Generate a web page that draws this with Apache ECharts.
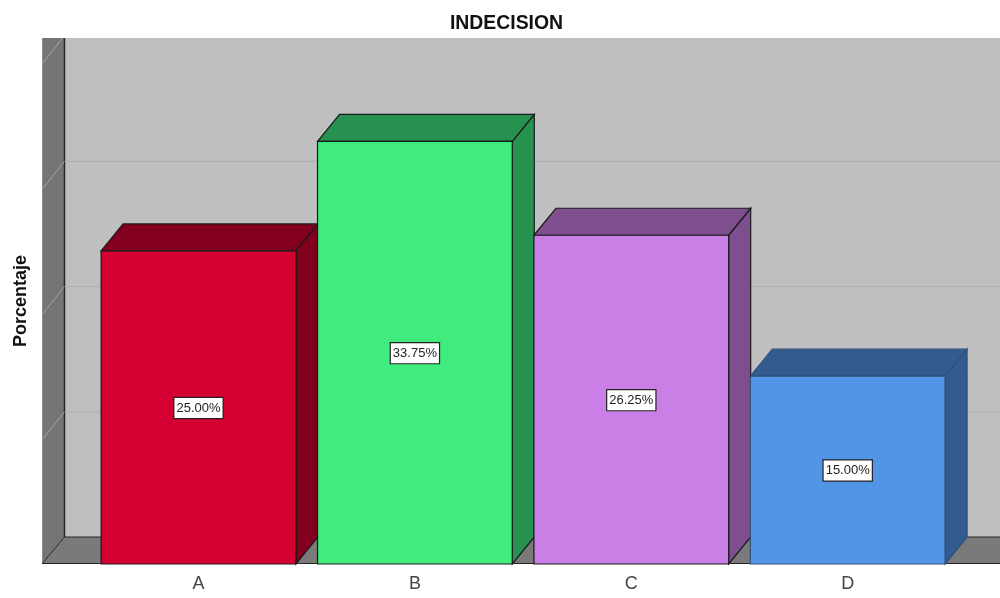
<!DOCTYPE html>
<html>
<head>
<meta charset="utf-8">
<style>html,body{margin:0;padding:0;background:#fff}#main{width:1000px;height:598px}</style>
<script src="https://cdn.jsdelivr.net/npm/echarts@6/dist/echarts.min.js"></script>
</head>
<body>
<div id="main"></div>
<script>
// Responses per option, in percent
const categories = ['A', 'B', 'C', 'D'];
const percentages = [25, 33.75, 26.25, 15];
const gridValues = [10, 20, 30, 40];
const frontColors = ['#D50032', '#40EC7D', '#C97FE6', '#5294E6'];
const shadeColors = ['#82001E', '#27914F', '#7D4F8E', '#335B90'];
const edgeColors = ['#1a1a1a', '#1a1a1a', '#1a1a1a', '#2f5078'];

// Oblique projection of the box: the depth runs up and to the right
const DEPTH_X = 22;
const DEPTH_Y = 27;
const WALL_LEFT = 42;
const BAR_RATIO = 0.9;

function poly(points, fill, stroke, lineWidth) {
  return { type: 'polygon', shape: { points }, style: { fill, stroke, lineWidth } };
}

function renderRoom(params) {
  const rect = params.coordSys;
  const top = rect.y;
  const bottom = rect.y + rect.height;
  const right = params.coordSys.x + 1000;
  const backX = WALL_LEFT + DEPTH_X + 0.5;
  const backY = bottom - DEPTH_Y;
  return {
    type: 'group',
    silent: true,
    children: [
      poly([[backX, top], [right, top], [right, backY], [backX, backY]], '#BFBFBF', null, 0),
      poly([[WALL_LEFT, top], [backX, top], [backX, backY], [WALL_LEFT, bottom]], '#757575', null, 0),
      poly([[WALL_LEFT, bottom], [backX, backY], [right, backY], [right, bottom]], '#7A7A7A', null, 0),
      { type: 'line', shape: { x1: WALL_LEFT + 0.5, y1: top, x2: WALL_LEFT + 0.5, y2: bottom }, style: { stroke: '#8a8a8a', lineWidth: 1 } },
      { type: 'line', shape: { x1: backX, y1: top, x2: backX, y2: backY }, style: { stroke: '#262626', lineWidth: 1.5 } },
      { type: 'line', shape: { x1: backX, y1: backY, x2: right, y2: backY }, style: { stroke: '#262626', lineWidth: 1.2 } },
      { type: 'line', shape: { x1: WALL_LEFT, y1: bottom, x2: backX, y2: backY }, style: { stroke: '#262626', lineWidth: 1 } },
      { type: 'line', shape: { x1: WALL_LEFT, y1: bottom - 0.5, x2: right, y2: bottom - 0.5 }, style: { stroke: '#262626', lineWidth: 1 } }
    ]
  };
}

function renderGridLine(params, api) {
  const rect = params.coordSys;
  const y = api.coord([0, api.value(1)])[1];
  const backX = WALL_LEFT + DEPTH_X + 0.5;
  const backY = y - DEPTH_Y;
  const children = [];
  // The diagonal on the side wall stops where it meets the ceiling
  let x2 = backX;
  let y2 = backY;
  if (backY < rect.y) {
    y2 = rect.y;
    x2 = WALL_LEFT + (y - rect.y) * DEPTH_X / DEPTH_Y;
  } else {
    children.push({
      type: 'line',
      shape: { x1: backX + 1, y1: backY, x2: rect.x + 1000, y2: backY },
      style: { stroke: '#B0B0B0', lineWidth: 1.2 }
    });
  }
  children.push({
    type: 'line',
    shape: { x1: WALL_LEFT + 1, y1: y, x2, y2 },
    style: { stroke: '#A3A3A3', lineWidth: 1 }
  });
  return { type: 'group', silent: true, children };
}

function renderBox(params, api) {
  const i = api.value(0);
  const value = api.value(1);
  const [cx, yTop] = api.coord([i, value]);
  const yBase = api.coord([i, 0])[1];
  const half = api.size([1, 0])[0] * BAR_RATIO / 2;
  const l = cx - half;
  const r = cx + half;
  const edge = edgeColors[i];
  return {
    type: 'group',
    children: [
      poly([[r, yTop], [r + DEPTH_X, yTop - DEPTH_Y], [r + DEPTH_X, yBase - DEPTH_Y], [r, yBase]], shadeColors[i], edge, 1.2),
      poly([[l, yTop], [l + DEPTH_X, yTop - DEPTH_Y], [r + DEPTH_X, yTop - DEPTH_Y], [r, yTop]], shadeColors[i], edge, 1.2),
      poly([[l, yTop], [r, yTop], [r, yBase], [l, yBase]], frontColors[i], edge, 1.2),
      {
        type: 'text',
        style: {
          text: value.toFixed(2) + '%',
          x: cx,
          y: (yTop + yBase) / 2 + 0.5,
          align: 'center',
          verticalAlign: 'middle',
          font: '13px "Liberation Sans", Arial, sans-serif',
          fill: '#222',
          backgroundColor: '#fff',
          borderColor: '#222',
          borderWidth: 1.2,
          padding: [5, 2, 2, 2]
        }
      }
    ]
  };
}

const chart = echarts.init(document.getElementById('main'), null, { renderer: 'canvas' });
chart.setOption({
  animation: false,
  backgroundColor: '#fff',
  title: {
    text: 'INDECISION',
    left: 501.5,
    top: 9,
    textAlign: 'center',
    textStyle: { fontFamily: 'Liberation Sans', fontWeight: 'bold', fontSize: 19.4, color: '#111' }
  },
  grid: { left: 90.3, width: 865.6, top: 38, bottom: 34, outerBoundsMode: 'none' },
  xAxis: {
    type: 'category',
    data: categories,
    axisLine: { show: false },
    axisTick: { show: false },
    axisLabel: { fontFamily: 'Liberation Sans', fontSize: 18, color: '#444', margin: 11 }
  },
  yAxis: {
    type: 'value',
    min: 0,
    max: 42,
    interval: 10,
    name: 'Porcentaje',
    nameLocation: 'middle',
    nameGap: 60,
    nameTextStyle: { fontFamily: 'Liberation Sans', fontWeight: 'bold', fontSize: 18, color: '#111' },
    axisLine: { show: false },
    axisTick: { show: false },
    axisLabel: { show: false },
    splitLine: { show: false }
  },
  series: [
    { type: 'custom', clip: false, renderItem: renderRoom, data: [[0, 0]], encode: { x: 0, y: 1 }, z: 1 },
    { type: 'custom', clip: false, renderItem: renderGridLine, data: gridValues.map(v => [0, v]), encode: { x: 0, y: 1 }, z: 2 },
    { type: 'custom', clip: false, renderItem: renderBox, data: percentages.map((v, i) => [i, v]), encode: { x: 0, y: 1 }, z: 3 }
  ]
});
</script>
</body>
</html>
